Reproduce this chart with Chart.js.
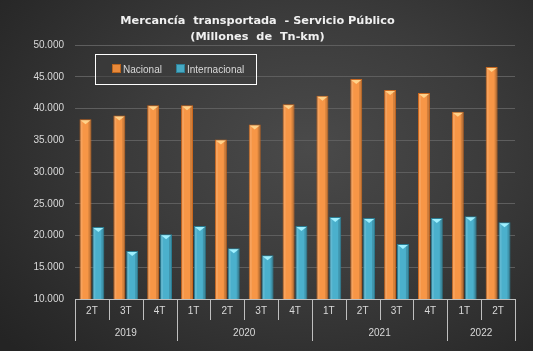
<!DOCTYPE html>
<html>
<head>
<meta charset="utf-8">
<script src="https://cdn.jsdelivr.net/npm/chart.js@4/dist/chart.umd.min.js"></script>
<style>
  html, body { margin: 0; padding: 0; }
  body { width: 533px; height: 351px; overflow: hidden; }
  #wrap {
    position: relative; width: 533px; height: 351px;
    background: radial-gradient(ellipse 75% 85% at 58% 42%, #4a4a4a 0%, #3b3b3b 45%, #2a2a2a 85%, #242424 100%);
  }
  canvas { position: absolute; left: 0; top: 0; }
  #legend {
    position: absolute; left: 95px; top: 54px; width: 160px; height: 29px;
    border: 1.5px solid #ffffff; box-sizing: content-box;
    background: rgba(60,60,60,0.55);
    font-family: "Liberation Sans", sans-serif; font-size: 10px; color: #d9d9d9;
  }
  #legend .item { position: absolute; top: 9px; line-height: 12px; white-space: nowrap; }
  #legend .sw { display: inline-block; width: 7px; height: 7px; margin-right: 2px; vertical-align: 0px; }
</style>
</head>
<body>
<div id="wrap">
  <canvas id="c" width="533" height="351"></canvas>
  <div id="legend">
    <div class="item" style="left:16px"><span class="sw" style="background:#e8893a;border:0.5px solid #b8641e"></span>Nacional</div>
    <div class="item" style="left:80px"><span class="sw" style="background:#46a9c3;border:0.5px solid #2d7f96"></span>Internacional</div>
  </div>
</div>
<script>
const quarters = ["2T","3T","4T","1T","2T","3T","4T","1T","2T","3T","4T","1T","2T"];
const years    = ["2019","2019","2019","2020","2020","2020","2020","2021","2021","2021","2021","2022","2022"];
const nacional      = [38300, 38900, 40500, 40500, 35100, 37500, 40650, 42000, 44650, 42900, 42450, 39500, 46550];
const internacional = [21350, 17550, 20200, 21500, 18000, 16900, 21500, 22900, 22750, 18650, 22750, 23050, 22100];
const yTicks = { min: 10000, max: 50000, step: 5000 };

const axisColor = '#bfbfbf';
const textColor = '#d9d9d9';
const tickFont = '"Liberation Sans", sans-serif';

const bevelPlugin = {
  id: 'bevel',
  afterDatasetsDraw(chart) {
    const ctx = chart.ctx;
    const tops = ['#ffd28a', '#9ff0ff'];
    const bottom = chart.chartArea.bottom;
    chart.data.datasets.forEach((ds, di) => {
      const meta = chart.getDatasetMeta(di);
      meta.data.forEach(bar => {
        const p = bar.getProps(['x','y','width','base'], true);
        const base = Math.min(p.base, bottom);
        const l = p.x - p.width / 2, r = p.x + p.width / 2;
        ctx.save();
        ctx.fillStyle = 'rgba(255,255,255,0.12)';
        ctx.fillRect(l + 1, p.y + 1, 2, base - p.y - 1);
        ctx.fillStyle = 'rgba(0,0,0,0.15)';
        ctx.fillRect(r - 3, p.y + 1, 2, base - p.y - 1);
        ctx.fillStyle = tops[di];
        ctx.beginPath();
        ctx.moveTo(l + 1, p.y + 1);
        ctx.lineTo(r - 1, p.y + 1);
        ctx.lineTo(p.x, p.y + 5);
        ctx.closePath();
        ctx.fill();
        ctx.restore();
      });
    });
  }
};

const groupAxisPlugin = {
  id: 'groupAxis',
  afterDraw(chart) {
    const xs = chart.scales.x;
    const ctx = chart.ctx;
    const n = quarters.length;
    const w = xs.getPixelForValue(1) - xs.getPixelForValue(0);
    const top = xs.top;
    const qBottom = top + 21;
    const yBottom = top + 42;
    ctx.save();
    ctx.strokeStyle = axisColor;
    ctx.lineWidth = 1;
    for (let i = 0; i <= n; i++) {
      const x = Math.round(xs.getPixelForValue(i) - w / 2) + 0.5;
      const isYear = i === 0 || i === n || years[i] !== years[i - 1];
      ctx.beginPath();
      ctx.moveTo(x, top);
      ctx.lineTo(x, isYear ? yBottom : qBottom);
      ctx.stroke();
    }
    ctx.fillStyle = textColor;
    ctx.font = '10px ' + tickFont;
    ctx.textAlign = 'center';
    ctx.textBaseline = 'middle';
    let start = 0;
    for (let i = 1; i <= n; i++) {
      if (i === n || years[i] !== years[start]) {
        const x0 = xs.getPixelForValue(start) - w / 2;
        const x1 = xs.getPixelForValue(i - 1) + w / 2;
        ctx.fillText(years[start], (x0 + x1) / 2, top + 34);
        start = i;
      }
    }
    ctx.restore();
  }
};

new Chart(document.getElementById('c'), {
  type: 'bar',
  data: {
    labels: quarters,
    datasets: [
      { label: 'Nacional', data: nacional, backgroundColor: '#f79646', borderColor: '#c8671f', borderWidth: 1,
        categoryPercentage: 0.76, barPercentage: 0.93 },
      { label: 'Internacional', data: internacional, backgroundColor: '#4bb0cc', borderColor: '#2b7d93', borderWidth: 1,
        categoryPercentage: 0.76, barPercentage: 0.93 }
    ]
  },
  options: {
    responsive: false,
    animation: false,
    layout: { padding: { left: 0, right: 18, top: 0, bottom: 0 } },
    plugins: {
      legend: { display: false },
      tooltip: { enabled: false },
      title: {
        display: true,
        text: ['Mercancía  transportada  - Servicio Público', '(Millones  de  Tn-km)'],
        color: '#f0f0f0',
        font: { family: '"DejaVu Sans", sans-serif', size: 11.3, weight: 'bold', lineHeight: 16 / 11.3 },
        padding: { top: 13, bottom: 0 },
        align: 'center'
      }
    },
    scales: {
      x: {
        grid: { display: false, drawTicks: false },
        border: { display: true, color: axisColor, width: 1 },
        ticks: { color: textColor, font: { family: tickFont, size: 10 }, padding: 6, maxRotation: 0, autoSkip: false },
        afterFit(s) { s.height = 52; }
      },
      y: {
        min: yTicks.min, max: yTicks.max,
        grid: { color: '#5e5e5e', lineWidth: 1, drawTicks: false },
        border: { display: false },
        ticks: {
          stepSize: yTicks.step, color: textColor, padding: 11,
          font: { family: tickFont, size: 10 },
          callback: v => v.toLocaleString('de-DE', { minimumFractionDigits: 0 }).replace(/\s/g, '')
        },
        afterFit(s) { s.width = 75; }
      }
    }
  },
  plugins: [bevelPlugin, groupAxisPlugin]
});
</script>
</body>
</html>
